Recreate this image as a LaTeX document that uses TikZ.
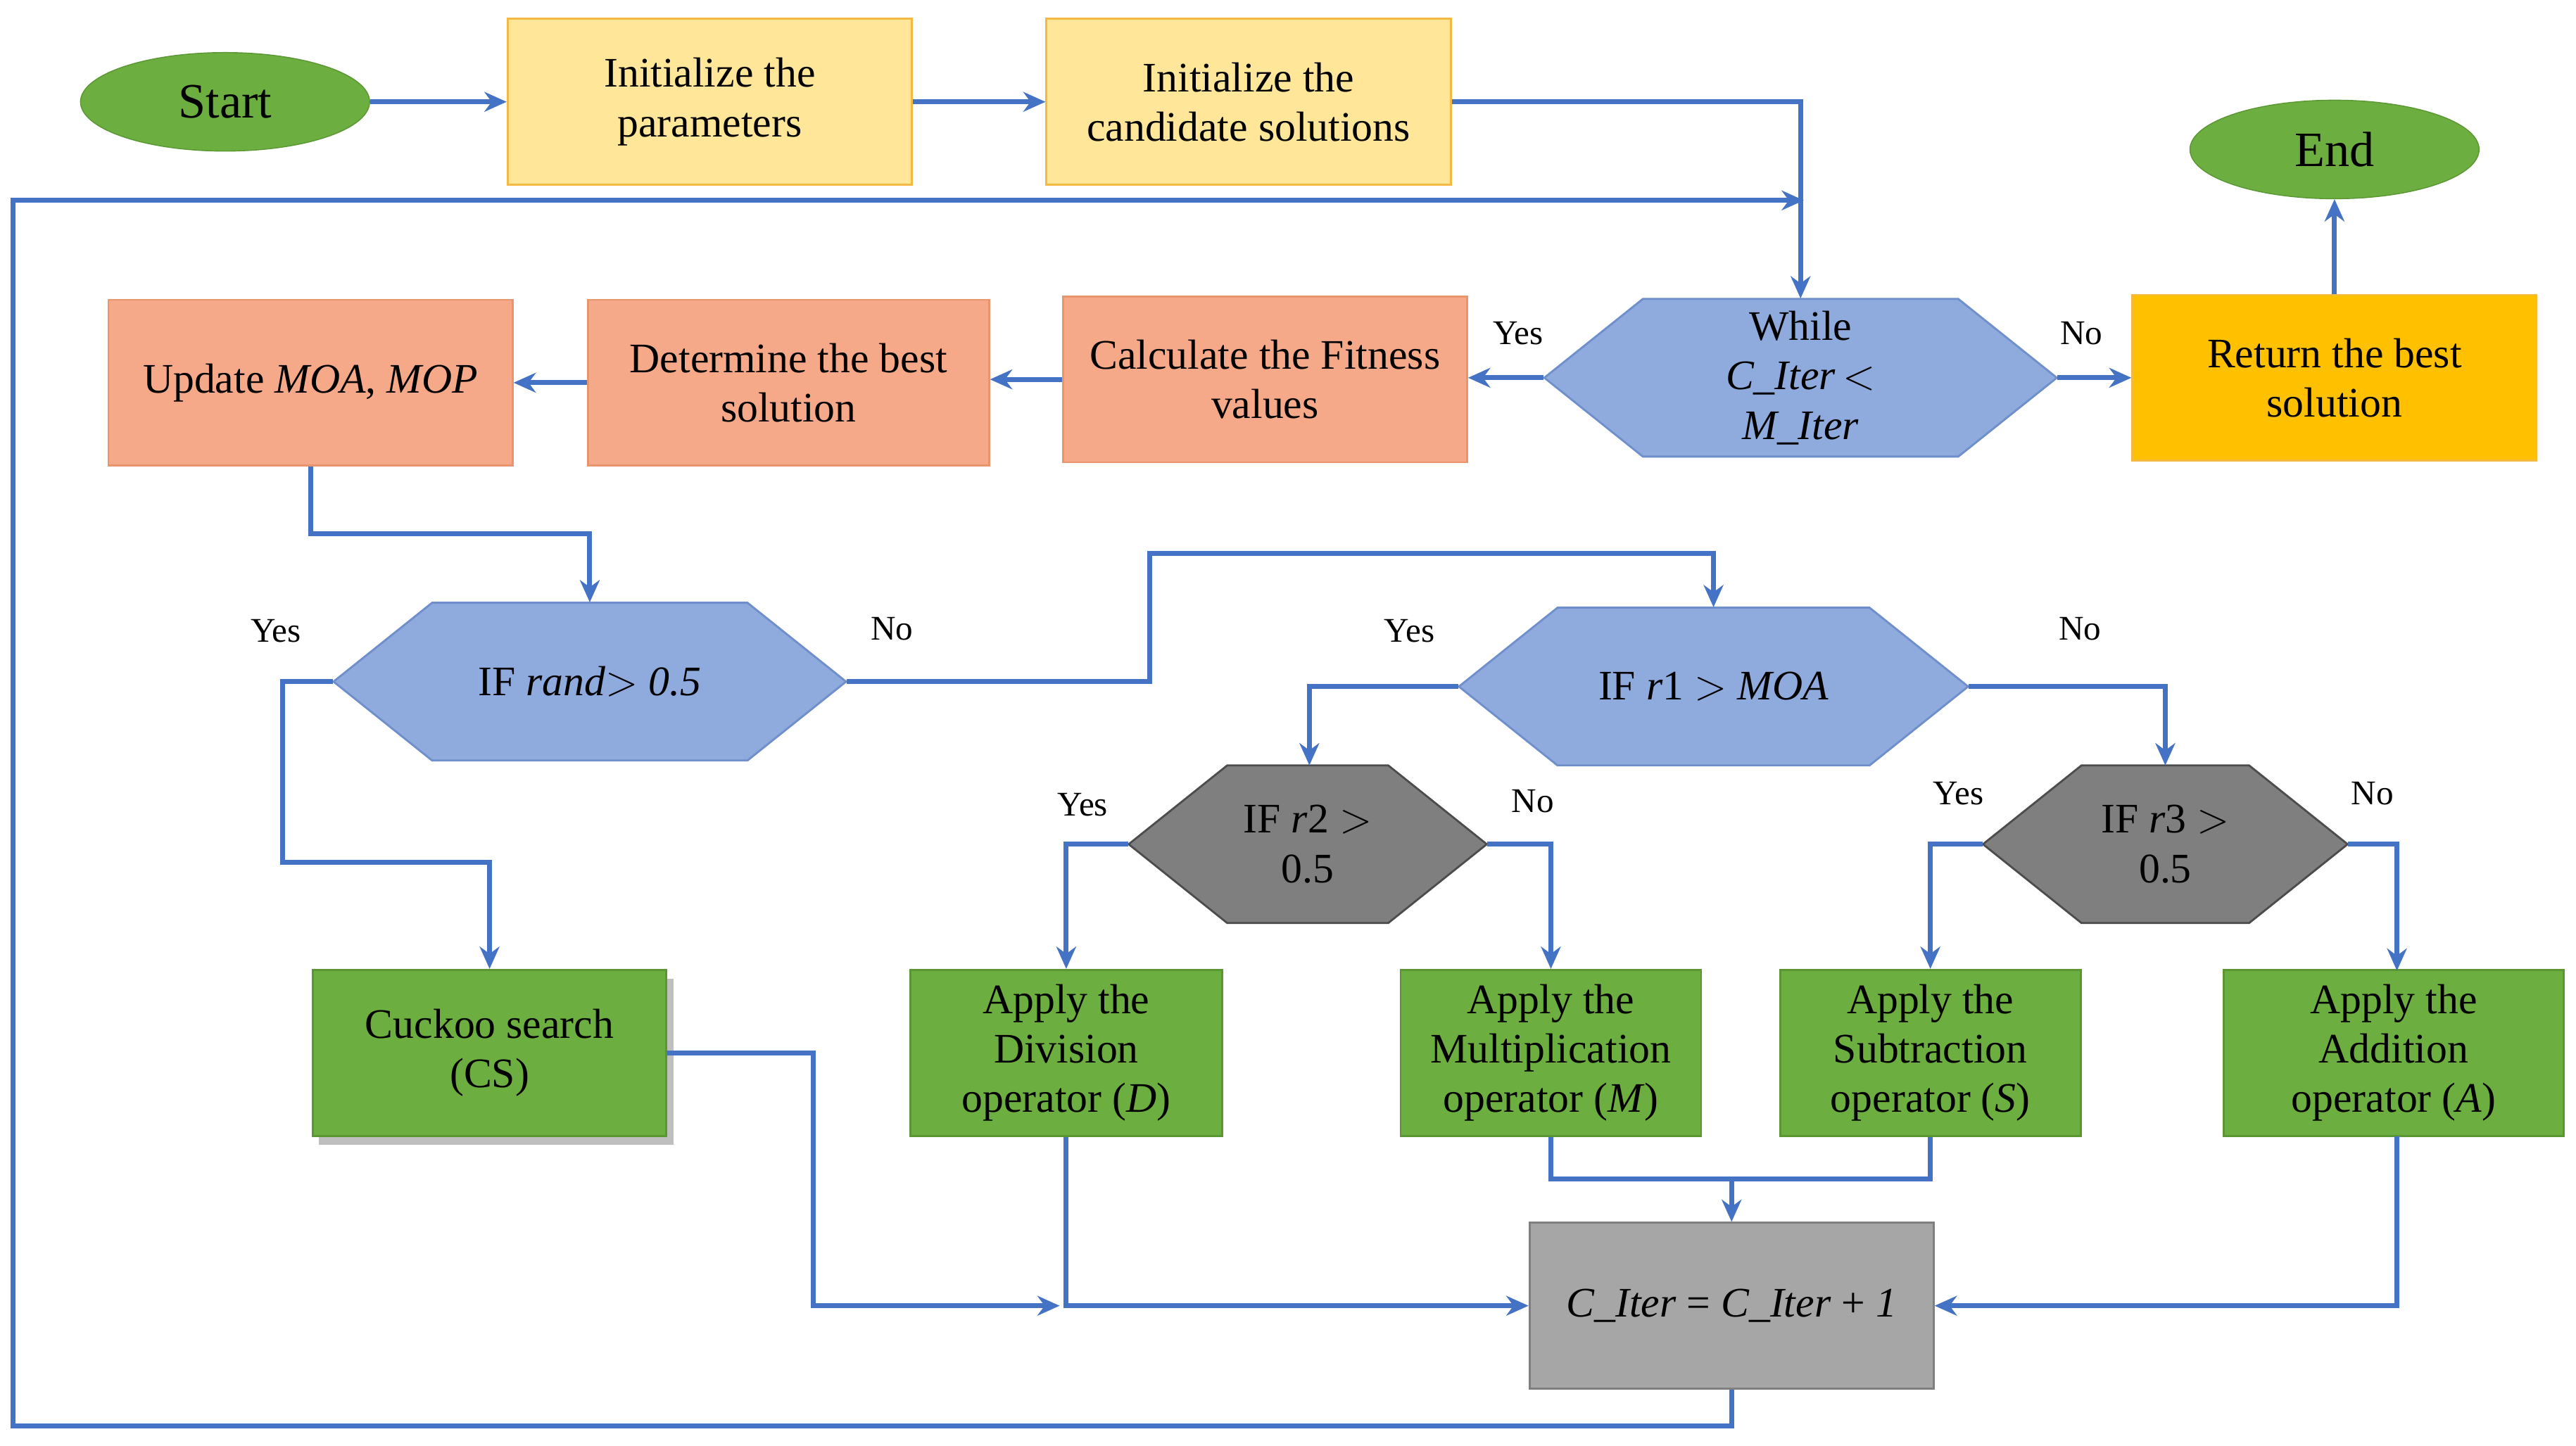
\documentclass[tikz,border=0pt]{standalone}
\usepackage{fontspec}
\setmainfont{Liberation Serif}
\usetikzlibrary{arrows.meta,shapes.geometric}
\definecolor{ln}{HTML}{4472C4}
\definecolor{yl}{HTML}{FFE699}
\definecolor{ylb}{HTML}{F4B942}
\definecolor{rt}{HTML}{FFC000}
\definecolor{sal}{HTML}{F6A988}
\definecolor{salb}{HTML}{E8956E}
\definecolor{hx}{HTML}{8FAADC}
\definecolor{hxb}{HTML}{6E8FCB}
\definecolor{gr}{HTML}{6CAE3F}
\definecolor{grb}{HTML}{5A9632}
\definecolor{dg}{HTML}{7F7F7F}
\definecolor{lg}{HTML}{A6A6A6}
\begin{document}
\begin{tikzpicture}[x=0.02334cm,y=-0.02334cm,
 every node/.style={font=\fontsize{17}{20}\selectfont, align=center},
 box/.style={draw, line width=0.8pt, minimum width=#1*0.02334cm, inner sep=1pt},
 arr/.style={draw=ln, line width=2pt, -{Stealth[length=9pt,width=8pt]}},
 lnk/.style={draw=ln, line width=2pt},
 lab/.style={font=\fontsize{14}{16}\selectfont}]
\useasboundingbox (0,0) rectangle (1568,880);
\newcommand{\hexa}[7]{% name cx cy w h fill draw
 \fill[#6,draw=#7,line width=0.8pt] (#2-#4/2,#3) -- (#2-#4/2+60,#3-#5/2) -- (#2+#4/2-60,#3-#5/2) -- (#2+#4/2,#3) -- (#2+#4/2-60,#3+#5/2) -- (#2-#4/2+60,#3+#5/2) -- cycle;
 \node[minimum width=#4*0.02334cm, minimum height=#5*0.02334cm, inner sep=0] (#1) at (#2,#3) {};}
% nodes
\node[ellipse, fill=gr, draw=grb, minimum width=176*0.02334cm, minimum height=60*0.02334cm, font=\fontsize{20}{24}\selectfont] (start) at (137,62) {Start};
\node[ellipse, fill=gr, draw=grb, minimum width=176*0.02334cm, minimum height=60*0.02334cm, font=\fontsize{20}{24}\selectfont] (end) at (1421,91) {End};
\node[box=246, minimum height=101*0.02334cm, fill=yl, draw=ylb] (par) at (432,62) {Initialize the\\parameters};
\node[box=246, minimum height=101*0.02334cm, fill=yl, draw=ylb] (cand) at (760,62) {Initialize the\\candidate solutions};
\node[box=246, minimum height=101*0.02334cm, fill=rt, draw=ylb] (ret) at (1421,230) {Return the best\\solution};
\node[box=246, minimum height=101*0.02334cm, fill=sal, draw=salb] (fit) at (770,231) {Calculate the Fitness\\values};
\node[box=244, minimum height=101*0.02334cm, fill=sal, draw=salb] (det) at (480,233) {Determine the best\\solution};
\node[box=246, minimum height=101*0.02334cm, fill=sal, draw=salb] (upd) at (189,233) {Update \textit{MOA}, \textit{MOP}};
\hexa{wh}{1096}{230}{312}{96}{hx}{hxb}
\node at (1096,230) {While\\\textit{C\_Iter}$\,<$\\\textit{M\_Iter}};
\hexa{ir}{359}{415}{312}{96}{hx}{hxb}
\node at (359,415) {IF \textit{rand}$>$ \textit{0.5}};
\hexa{i1}{1043}{418}{310}{96}{hx}{hxb}
\node at (1043,418) {IF \textit{r}1 $>$ \textit{MOA}};
\hexa{i2}{796}{514}{218}{96}{dg}{black!70}
\node at (796,514) {IF \textit{r}2 $>$\\0.5};
\hexa{i3}{1318}{514}{222}{96}{dg}{black!70}
\node at (1318,514) {IF \textit{r}3 $>$\\0.5};
\fill[black!25] (194,596) rectangle (410,697);
\node[box=215, minimum height=101*0.02334cm, fill=gr, draw=grb] (cs) at (298,641) {Cuckoo search\\(CS)};
\node[box=190, minimum height=101*0.02334cm, fill=gr, draw=grb] (dv) at (649,641) {Apply the\\Division\\operator (\textit{D})};
\node[box=183, minimum height=101*0.02334cm, fill=gr, draw=grb] (mu) at (944,641) {Apply the\\Multiplication\\operator (\textit{M})};
\node[box=183, minimum height=101*0.02334cm, fill=gr, draw=grb] (su) at (1175,641) {Apply the\\Subtraction\\operator (\textit{S})};
\node[box=207, minimum height=101*0.02334cm, fill=gr, draw=grb] (ad) at (1457,641) {Apply the\\Addition\\operator (\textit{A})};
\node[box=246, minimum height=101*0.02334cm, fill=lg, draw=dg] (ci) at (1054,795) {\textit{C\_Iter} = \textit{C\_Iter} + \textit{1}};
\coordinate (j1) at (645,795);
\coordinate (lp) at (1098,122);
% connectors
\draw[arr] (start.east) -- (par.west);
\draw[arr] (par.east) -- (cand.west);
\draw[arr] (cand.east) -- (1096,62) -- (wh.north);
\draw[arr] (ci.south) -- (1054,868) -- (8,868) -- (8,122) -- (lp);
\draw[arr] (wh.west) -- (wh.west -| fit.east);
\draw[arr] (wh.east) -- (ret.west);
\draw[arr] (ret.north) -- (end.south);
\draw[arr] (fit.west) -- (fit.west -| det.east);
\draw[arr] (det.west) -- (upd.east);
\draw[arr] (upd.south) -- (189,325) -- (359,325) -- (ir.north);
\draw[arr] (ir.east) -- (700,415) -- (700,337) -- (1043,337) -- (i1.north);
\draw[arr] (ir.west) -- (172,415) -- (172,525) -- (298,525) -- (cs.north);
\draw[arr] (i1.west) -- (797,418) -- (797,466);
\draw[arr] (i1.east) -- (1318,418) -- (1318,466);
\draw[arr] (i2.west) -- (649,514) -- (dv.north);
\draw[arr] (i2.east) -- (944,514) -- (mu.north);
\draw[arr] (i3.west) -- (1175,514) -- (su.north);
\draw[arr] (i3.east) -- (1459,514) -- (1459,591);
\draw[arr] (cs.east) -- (495,641) -- (495,795) -- (j1);
\draw[arr] (dv.south) -- (649,795) -- (ci.west);
\draw[lnk] (mu.south) -- (944,718) -- (1175,718) -- (su.south);
\draw[arr] (1054,718) -- (ci.north);
\draw[arr] (1459,692) -- (1459,795) -- (ci.east);
% labels
\node[lab] at (924,203) {Yes};
\node[lab] at (1267,203) {No};
\node[lab] at (168,384) {Yes};
\node[lab] at (543,383) {No};
\node[lab] at (858,384) {Yes};
\node[lab] at (1266,383) {No};
\node[lab] at (659,490) {Yes};
\node[lab] at (933,488) {No};
\node[lab] at (1192,483) {Yes};
\node[lab] at (1444,483) {No};
\end{tikzpicture}
\end{document}
